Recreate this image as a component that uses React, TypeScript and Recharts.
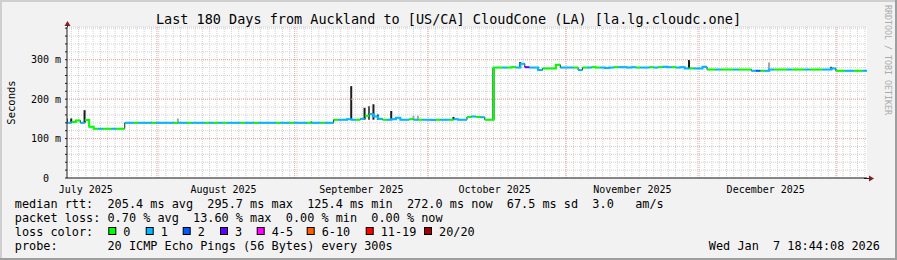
import React from "react";
import {
  ComposedChart,
  Line,
  Bar,
  Cell,
  XAxis,
  YAxis,
  CartesianGrid,
  ReferenceLine
} from "recharts";

// median rtt per day (ms), day 0 = Jul 11 2025 18:44, day 180 = now
const MEDIAN = [
  140, 142, 146, 140, 147, 130, 125, 125, 125, 125, 125, 125, 125,
  140, 140, 140, 140, 140, 140, 140, 140, 140, 140,
  140, 140, 140, 140, 140, 140, 140, 140, 140, 140,
  140, 140, 140, 140, 140, 140, 140, 140, 140, 140,
  140, 140, 140, 140, 140, 140, 140, 140, 140, 140,
  140, 140, 140, 140, 140, 140, 140,
  148, 148, 148, 149, 148, 148, 150, 158, 162, 156,
  150, 148, 148, 149, 153, 148, 148, 149, 148, 148,
  148, 148, 147, 148, 148, 148, 148, 149, 148, 148,
  155, 156, 155, 154, 148, 148,
  280, 280, 280, 280, 281, 280, 290, 281, 280, 280,
  274, 278, 278, 278, 287, 280, 280, 280, 280, 274,
  280, 280, 281, 280, 280, 279, 280, 281, 281, 281,
  280, 281, 280, 280, 280, 281, 280, 281,
  282, 281, 281, 280, 281, 278, 278, 278, 278, 282,
  275, 275, 275, 275, 275, 275, 275, 275, 275, 275,
  272, 272, 272, 272, 275, 275, 275, 275, 275, 275,
  275, 275, 275, 275, 275, 275, 275, 275, 278, 272,
  272, 272, 272, 272, 272, 272, 272
];

// loss bucket per day (index into LOSS_COLORS)
const LOSS = [
  1, 0, 0, 1, 0, 0, 0, 1, 0, 0, 1, 0, 0,
  1, 1, 0, 1, 1, 1, 0, 1, 1, 1, 1, 0, 1, 1, 0, 1, 1, 1, 0, 1,
  0, 1, 0, 1, 1, 1, 0, 1, 1, 0, 1, 1, 1, 1, 0, 1, 1, 0, 1, 1,
  1, 0, 1, 1, 0, 1, 1,
  0, 1, 1, 1, 1, 0, 1, 0, 1, 1, 1, 0, 1, 1, 1, 1, 1, 0, 1, 0,
  1, 1, 1, 0, 1, 1, 0, 1, 1, 1, 0, 1, 0, 1, 0, 0,
  0, 0, 1, 0, 0, 1, 1, 3, 1, 1, 1, 0, 0, 0, 0, 1, 1, 1, 0, 1,
  0, 1, 0, 0, 1, 1, 1, 0, 1, 1, 1, 1, 0, 1, 1, 0, 1, 0,
  1, 1, 0, 1, 1, 1, 0, 1, 1, 1, 0, 0, 1, 0, 0, 0, 1, 0, 0, 0,
  1, 2, 0, 1, 1, 0, 0, 0, 1, 0, 0, 0, 1, 0, 0, 0, 1, 1, 1, 0,
  0, 1, 1, 0, 0, 1, 0
];

// smoke spikes: day, low/high (ms), shade
const SMOKE_DAY = [0, 1, 4, 25, 55, 64, 67, 68, 69, 70, 73, 78, 79, 87, 96, 102, 140, 158, 172];
const SMOKE_LOW = [140, 140, 140, 140, 140, 148, 148, 148, 148, 148, 148, 148, 148, 148, 148, 280, 278, 272, 275];
const SMOKE_HIGH = [151, 151, 172, 151, 143, 233, 178, 182, 187, 161, 170, 158, 158, 155, 280, 294, 299, 293, 282];
const SMOKE_SHADE = ["dark", "dark", "dark", "light", "dark", "dark", "dark", "mid", "dark", "dark", "dark", "light", "light", "dark", "dark", "dark", "dark", "light", "dark"];

const MONTH_STARTS = [20.22, 51.22, 81.22, 112.22, 142.22, 173.22];
const MONTH_MIDS = [4.22, 35.22, 66.22, 96.22, 127.22, 157.22];
const MONTH_LABELS = ["July 2025", "August 2025", "September 2025", "October 2025", "November 2025", "December 2025"];
const Y_TICKS = [0, 20, 40, 60, 80, 100, 120, 140, 160, 180, 200, 220, 240, 260, 280, 300, 320, 340, 360, 380];
const Y_MAJOR = [100, 200, 300];

const LOSS_COLORS = ["#00ff00", "#00b8ff", "#0059ff", "#5e00ff", "#ff00ff", "#ff5e00", "#ff0000", "#a10000"];
const LOSS_LABELS = ["0", "1", "2", "3", "4-5", "6-10", "11-19", "20/20"];

const LEGEND_LINES = [
  "median rtt:  205.4 ms avg  295.7 ms max  125.4 ms min  272.0 ms now  67.5 ms sd  3.0   am/s",
  "packet loss: 0.70 % avg  13.60 % max  0.00 % min  0.00 % now",
  "loss color:",
  "probe:       20 ICMP Echo Pings (56 Bytes) every 300s"
];

const SHADES: any = { dark: "#1c1c1c", mid: "#555555", light: "#a8a8a8" };
const MONO = "DejaVu Sans Mono";
const MINOR = "#d2d2d2";
const MAJOR = "#eea2a2";

const NDAYS = MEDIAN.length - 1;

const data = MEDIAN.map((m, i) => {
  const k = SMOKE_DAY.indexOf(i);
  return {
    day: i,
    median: m,
    smoke: k >= 0 ? [SMOKE_LOW[k], SMOKE_HIGH[k]] : null,
    shade: k >= 0 ? SMOKE_SHADE[k] : "dark"
  };
});

// one broken series per loss bucket, each day drawn as a flat step
const lossSeries = LOSS_COLORS.map((_, L) => {
  const pts: any[] = [];
  for (let i = 0; i < NDAYS; i++) {
    if (LOSS[i] !== L) continue;
    pts.push({ day: i, v: MEDIAN[i] }, { day: i + 1, v: MEDIAN[i] });
    if (LOSS[i + 1] !== L) pts.push({ day: i + 1, v: null });
  }
  return pts;
});

function YTick(props: any) {
  const { x, y, payload } = props;
  const v = payload.value;
  if (v % 100 !== 0) return null;
  return (
    <text x={v === 0 ? x - 12 : x} y={y + 3.5} textAnchor="end" fontFamily={MONO} fontSize={10} fill="#000">
      {v === 0 ? "0" : `${v} m`}
    </text>
  );
}

function XTick(props: any) {
  const { x, y, index } = props;
  return (
    <text x={x} y={y + 13} textAnchor="middle" fontFamily={MONO} fontSize={10} fill="#000">
      {MONTH_LABELS[index]}
    </text>
  );
}

const BOX_X = [108.3, 145.7, 182.7, 220, 256.7, 306.7, 365.7, 424];

export default function App() {
  return (
    <div style={{ position: "absolute", left: 0, top: 0, width: 897, height: 260, background: "#f2f2f2", overflow: "hidden" }}>
      <ComposedChart width={897} height={260} data={data} margin={{ top: 27, right: 30, bottom: 62, left: 7 }}>
        <CartesianGrid
          fill="#ffffff"
          stroke={MINOR}
          strokeDasharray="1 1"
          verticalCoordinatesGenerator={({ offset }: any) => {
            const xs: number[] = [];
            for (let px = offset.left + 4.3; px < offset.left + offset.width; px += 7.28) xs.push(px);
            return xs;
          }}
        />
        {MONTH_STARTS.map((d) => (
          <ReferenceLine key={d} x={d} stroke={MAJOR} strokeDasharray="1 1" />
        ))}
        {Y_MAJOR.map((v) => (
          <ReferenceLine key={v} y={v} stroke={MAJOR} strokeDasharray="1 1" />
        ))}
        <XAxis
          dataKey="day"
          type="number"
          domain={[0, NDAYS]}
          ticks={MONTH_MIDS}
          tick={<XTick />}
          tickLine={false}
          tickSize={0}
          height={20}
          axisLine={{ stroke: "#1f1f1f" }}
          interval={0}
          allowDataOverflow
        />
        <YAxis
          type="number"
          domain={[0, 383]}
          ticks={Y_TICKS}
          tick={<YTick />}
          tickSize={2}
          tickMargin={4}
          tickLine={{ stroke: "#1f1f1f" }}
          axisLine={{ stroke: "#1f1f1f" }}
          width={60}
          interval={0}
          allowDataOverflow
        />
        <Bar dataKey="smoke" barSize={2} isAnimationActive={false}>
          {data.map((d, i) => (
            <Cell key={i} fill={SHADES[d.shade]} />
          ))}
        </Bar>
        <Line
          type="stepAfter"
          dataKey="median"
          stroke="#1c1c1c"
          strokeWidth={1}
          dot={false}
          activeDot={false}
          isAnimationActive={false}
        />
        {lossSeries.map((pts, L) =>
          pts.length ? (
            <Line
              key={L}
              data={pts}
              dataKey="v"
              type="linear"
              stroke={LOSS_COLORS[L]}
              strokeWidth={2}
              dot={false}
              activeDot={false}
              connectNulls={false}
              isAnimationActive={false}
            />
          ) : null
        )}
      </ComposedChart>
      <svg width={897} height={260} style={{ position: "absolute", left: 0, top: 0, pointerEvents: "none" }}>
        <rect x={0} y={0} width={897} height={2} fill="#cfcfcf" />
        <rect x={0} y={0} width={2} height={260} fill="#cfcfcf" />
        <rect x={0} y={258} width={897} height={2} fill="#9e9e9e" />
        <rect x={895} y={0} width={2} height={260} fill="#9e9e9e" />
        <line x1={67.5} y1={27} x2={67.5} y2={23} stroke="#1f1f1f" />
        <polygon points="64.5,26 70.5,26 67.5,21" fill="#801f1f" />
        <line x1={864} y1={178.5} x2={870} y2={178.5} stroke="#1f1f1f" />
        <polygon points="869,175.5 869,181.5 874,178.5" fill="#801f1f" />
        <text x={448.5} y={24} textAnchor="middle" fontFamily={MONO} fontSize={13.5} fill="#000">
          Last 180 Days from Auckland to [US/CA] CloudCone (LA) [la.lg.cloudc.one]
        </text>
        <text transform="translate(14.5,102.5) rotate(-90)" textAnchor="middle" fontFamily={MONO} fontSize={10.5} fill="#000">
          Seconds
        </text>
        <text transform="translate(884.5,60) rotate(90)" textAnchor="middle" fontFamily={MONO} fontSize={8.3} fill="#ababab">
          RRDTOOL / TOBI OETIKER
        </text>
        {LEGEND_LINES.map((s, i) => (
          <text key={i} x={14.8} y={208 + i * 14} fontFamily={MONO} fontSize={11.85} fill="#000" style={{ whiteSpace: "pre" }}>
            {s}
          </text>
        ))}
        {LOSS_LABELS.map((lab, i) => (
          <g key={lab}>
            <rect x={BOX_X[i] + 0.5} y={227.5} width={7} height={7} fill={LOSS_COLORS[i]} stroke="#000" />
            <text x={BOX_X[i] + 15} y={236} fontFamily={MONO} fontSize={11.85} fill="#000">
              {lab}
            </text>
          </g>
        ))}
        <text x={880} y={250} textAnchor="end" fontFamily={MONO} fontSize={11.85} fill="#000" style={{ whiteSpace: "pre" }}>
          {"Wed Jan  7 18:44:08 2026"}
        </text>
      </svg>
    </div>
  );
}
